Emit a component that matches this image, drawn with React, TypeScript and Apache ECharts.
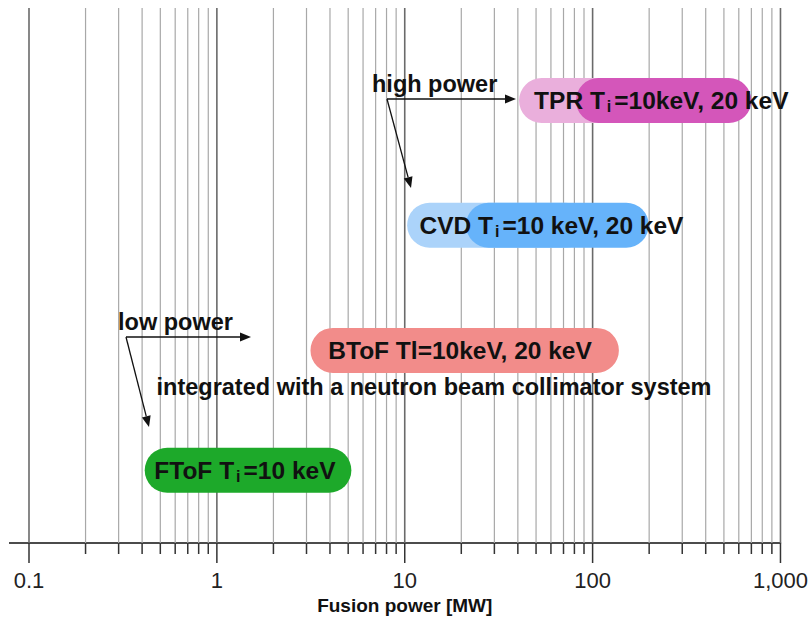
import React, { useEffect, useRef } from 'react';
import * as echarts from 'echarts';

// ---- axis ticks (log scale, 0.1 .. 1000) ----
const gridValues = [
  0.1, 0.2, 0.3, 0.4, 0.5, 0.6, 0.7, 0.8, 0.9,
  1, 2, 3, 4, 5, 6, 7, 8, 9,
  10, 20, 30, 40, 50, 60, 70, 80, 90,
  100, 200, 300, 400, 500, 600, 700, 800, 900,
  1000,
];
const tickLabels = ['0.1', '1', '10', '100', '1,000'];
const axisTitle = 'Fusion power [MW]';

// ---- fusion-power ranges of each diagnostic ----
const bandNames = ['TPR Ti=10 keV', 'TPR Ti=20 keV', 'CVD Ti=10 keV', 'CVD Ti=20 keV', 'BToF', 'FToF'];
const bandStart = [40.6, 81.5, 10.3, 21.2, 3.15, 0.413];
const bandEnd = [330, 700, 95, 199, 138, 5.2];
const bandRow = [82.7, 82.7, 59.4, 59.4, 36.0, 13.6];

// ---- labels of the bands ----
const labelTexts = [
  '{t|TPR T}{s|i}{t|=10keV, 20 keV}',
  '{t|CVD T}{s|i}{t|=10 keV, 20 keV}',
  '{t|BToF Tl=10keV, 20 keV}',
  '{t|FToF T}{s|i}{t|=10 keV}',
];
const labelX = [232, 60.4, 19.7, 1.41];
const labelRow = [82.7, 59.4, 36.0, 13.6];

// ---- styles ----
const bandColors = ['#eaafdc', '#d456ba', '#abd3fa', '#66b3fa', '#f28c8a', '#1da92a'];
const FONT = '"Liberation Sans", Arial, Helvetica, sans-serif';
const BAND_H = 45;

function arrow(x1: number, y1: number, x2: number, y2: number) {
  const dx = x2 - x1, dy = y2 - y1;
  const len = Math.sqrt(dx * dx + dy * dy);
  const ux = dx / len, uy = dy / len;
  const hl = 11, hw = 4.5;
  const bx = x2 - ux * hl, by = y2 - uy * hl;
  return [
    { type: 'line', silent: true, shape: { x1, y1, x2: bx, y2: by }, style: { stroke: '#111', lineWidth: 1.3 }, z: 10 },
    {
      type: 'polygon', silent: true,
      shape: { points: [[x2, y2], [bx - uy * hw, by + ux * hw], [bx + uy * hw, by - ux * hw]] },
      style: { fill: '#111' }, z: 10,
    },
  ];
}

function annot(text: string, x: number, y: number, align = 'left') {
  return {
    type: 'text', silent: true, x, y, z: 10,
    style: { text, fontSize: 23.5, fontWeight: 'bold', fontFamily: FONT, fill: '#111', align, verticalAlign: 'middle' },
  };
}

export default function App() {
  const ref = useRef<HTMLDivElement>(null);
  useEffect(() => {
    if (!ref.current) return;
    const chart = echarts.init(ref.current, undefined, { renderer: 'svg' });
    const rich = {
      t: { fontSize: 24.5, fontWeight: 'bold', fontFamily: FONT, fill: '#111', lineHeight: 28 },
      s: { fontSize: 16, fontWeight: 'bold', fontFamily: FONT, fill: '#111', lineHeight: 8, verticalAlign: 'bottom', padding: [0, 3, 0, 2] },
    };
    const option: any = {
      animation: false,
      grid: { left: 29, right: 29, top: 8, bottom: 79 },
      xAxis: {
        type: 'log', logBase: 10, min: 0.1, max: 1000,
        axisLine: { show: true, lineStyle: { color: '#111', width: 1.5 } },
        axisTick: { show: false },
        splitLine: { show: false },
        axisLabel: {
          fontSize: 22, color: '#222', fontFamily: FONT, margin: 26,
          formatter: (v: number) => tickLabels[Math.round(Math.log10(v)) + 1] ?? String(v),
        },
        name: axisTitle, nameLocation: 'middle', nameGap: 52,
        nameTextStyle: { fontSize: 19, fontWeight: 'bold', color: '#111', fontFamily: FONT },
      },
      yAxis: { type: 'value', min: 0, max: 100, show: false },
      series: [
        {
          type: 'custom', name: 'grid', silent: true, z: 1, clip: false,
          data: gridValues.map((v) => [v, 0]),
          renderItem: (params: any, api: any) => {
            const v = api.value(0);
            const p0 = api.coord([v, 0]);
            const p1 = api.coord([v, 100]);
            const lg = Math.log10(v);
            const major = Math.abs(lg - Math.round(lg)) < 1e-6;
            return {
              type: 'group',
              children: [
                { type: 'line', shape: { x1: p0[0], y1: p1[1], x2: p0[0], y2: p0[1] }, style: { stroke: major ? '#6a6a6a' : '#a8a8a8', lineWidth: major ? 1.6 : 1.2 } },
                { type: 'line', shape: { x1: p0[0], y1: p0[1], x2: p0[0], y2: p0[1] + (major ? 20 : 11) }, style: { stroke: '#333', lineWidth: 1.5 } },
              ],
            };
          },
        },
        {
          type: 'custom', name: 'ranges', silent: true, z: 3,
          data: bandNames.map((n, i) => ({ name: n, value: [bandStart[i], bandEnd[i], bandRow[i]] })),
          renderItem: (params: any, api: any) => {
            const s = api.coord([api.value(0), api.value(2)]);
            const e = api.coord([api.value(1), api.value(2)]);
            return {
              type: 'rect',
              shape: { x: s[0], y: s[1] - BAND_H / 2, width: e[0] - s[0], height: BAND_H, r: BAND_H / 2 },
              style: { fill: bandColors[params.dataIndex] },
            };
          },
        },
        {
          type: 'custom', name: 'labels', silent: true, z: 4,
          data: labelX.map((x, i) => [x, labelRow[i]]),
          renderItem: (params: any, api: any) => {
            const p = api.coord([api.value(0), api.value(1)]);
            return {
              type: 'text', x: p[0], y: p[1],
              style: { text: labelTexts[params.dataIndex], rich, align: 'center', verticalAlign: 'middle' },
            };
          },
        },
      ],
      graphic: [
        { type: 'line', silent: true, shape: { x1: 9, y1: 543, x2: 29, y2: 543 }, style: { stroke: '#111', lineWidth: 1.5 } },
        annot('high power', 372, 84),
        ...arrow(387, 99, 516, 99),
        ...arrow(387, 99, 411, 188),
        annot('low power', 118, 322),
        ...arrow(126, 337, 251, 337),
        ...arrow(126, 337, 149, 427),
        annot('integrated with a neutron beam collimator system', 434, 387, 'center'),
      ],
    };
    chart.setOption(option);
    return () => chart.dispose();
  }, []);
  return <div ref={ref} style={{ position: 'absolute', left: 0, top: 0, width: 811, height: 622, background: '#fff' }} />;
}
